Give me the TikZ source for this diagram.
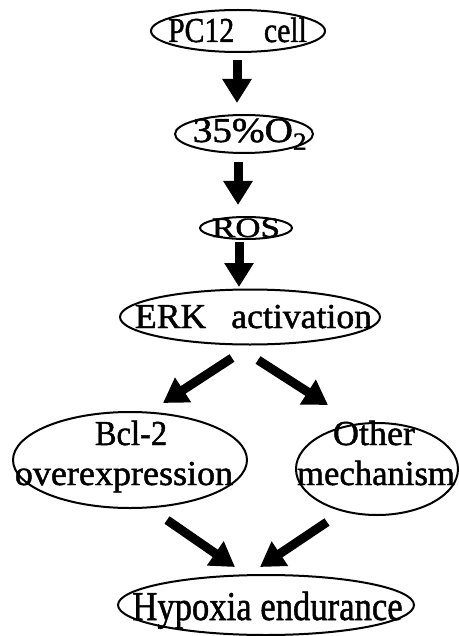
\documentclass[tikz,border=0pt]{standalone}
\usepackage{fontspec}
\setmainfont{Liberation Serif}
\newfontfamily\heavyfont[FakeBold=1.3]{Liberation Serif}
\usetikzlibrary{shapes.geometric,arrows.meta}
\begin{document}
\begin{tikzpicture}[x=1pt,y=-1pt,
  oval/.style={draw,line width=2pt,shape=ellipse,inner sep=0pt,outer sep=0pt},
  txt/.style={anchor=base,inner sep=0pt,font=\heavyfont\fontsize{35}{40}\selectfont},
  bigarrow/.style={line width=9pt,-{Triangle[length=24pt,width=28pt]}}]
\useasboundingbox[fill=white] (0,0) rectangle (458,636);
% ellipses
\node[oval,minimum width=174pt,minimum height=42pt] (pc) at (238,31) {};
\node[oval,minimum width=138pt,minimum height=38pt] (o2) at (244,134) {};
\node[oval,minimum width=92pt,minimum height=22pt] (ros) at (246,228) {};
\node[oval,minimum width=260pt,minimum height=55pt] (erk) at (250,317) {};
\node[oval,minimum width=234pt,minimum height=96pt] (bcl) at (130,460) {};
\node[oval,minimum width=162pt,minimum height=92pt] (oth) at (377,469) {};
\node[oval,minimum width=296pt,minimum height=60pt] (hyp) at (266,605) {};
% texts
\node[txt] (pct) at (237.5,42) {\scalebox{0.85}[1]{PC12\quad cell}};
\node[txt] (o2t) at (250,142) {\scalebox{1.12}[1]{35\%O\textsubscript{2}}};
\node[txt] (rost) at (246,237) {\scalebox{1.0}[0.8]{ROS}};
\node[txt] (erkt) at (253.5,328) {\scalebox{1.02}[1]{ERK\hspace{0.7em}activation}};
\node[txt] (bclt1) at (131,445) {\scalebox{0.93}[1]{Bcl-2}};
\node[txt] (bclt2) at (124,485) {\scalebox{1.03}[1]{overexpression}};
\node[txt] (otht1) at (374,445) {\scalebox{1.03}[1]{Other}};
\node[txt] (otht2) at (376,485) {\scalebox{0.99}[1]{mechanism}};
\node[txt] (hypt) at (267.5,620) {\scalebox{0.99}[1.17]{Hypoxia endurance}};
% arrows
\draw[bigarrow] ([xshift=-1pt,yshift=-8pt]pc.south) -- ([xshift=-7pt,yshift=12pt]o2.north);
\draw[bigarrow] ([xshift=-6pt,yshift=-9pt]o2.south) -- ([xshift=-8pt,yshift=12pt]ros.north);
\draw[bigarrow] ([xshift=-7pt,yshift=-3pt]ros.south) -- ([xshift=-11pt,yshift=2.5pt]erk.north);
\draw[bigarrow] ([xshift=-18pt,yshift=-13.5pt]erk.south) -- ([xshift=33pt,yshift=9pt]bcl.north);
\draw[bigarrow] ([xshift=8pt,yshift=-15.5pt]erk.south) -- ([xshift=-49pt,yshift=18pt]oth.north);
\draw[bigarrow] ([xshift=37pt,yshift=-12pt]bcl.south) -- ([xshift=-31pt,yshift=8pt]hyp.north);
\draw[bigarrow] ([xshift=-50pt,yshift=-7pt]oth.south) -- ([xshift=-6pt,yshift=8pt]hyp.north);
\end{tikzpicture}
\end{document}
